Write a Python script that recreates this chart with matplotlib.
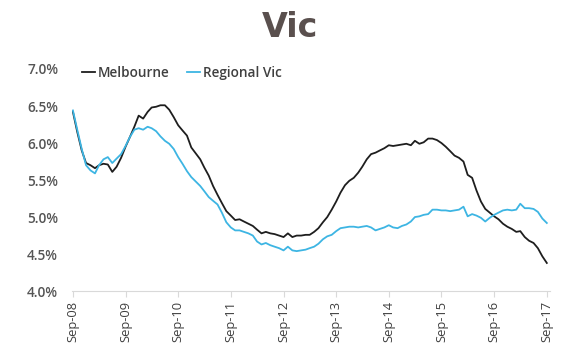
import pandas as pd
import matplotlib.pyplot as plt
import matplotlib.dates as mdates

# monthly unemployment rate, Sep-08 .. Sep-17 (%)
melbourne = [
    6.42, 6.15, 5.90, 5.73, 5.70, 5.66, 5.70, 5.72, 5.71, 5.61,
    5.68, 5.80, 5.95, 6.08, 6.22, 6.37, 6.33, 6.42, 6.48, 6.49,
    6.51, 6.51, 6.45, 6.35, 6.24, 6.17, 6.10, 5.94, 5.86, 5.78,
    5.67, 5.56, 5.42, 5.30, 5.19, 5.08, 5.02, 4.96, 4.97, 4.94,
    4.91, 4.88, 4.83, 4.78, 4.80, 4.78, 4.77, 4.75, 4.73, 4.78,
    4.73, 4.75, 4.75, 4.76, 4.76, 4.80, 4.85, 4.93, 5.00, 5.10,
    5.21, 5.33, 5.43, 5.49, 5.53, 5.60, 5.68, 5.78, 5.85, 5.87,
    5.90, 5.93, 5.97, 5.96, 5.97, 5.98, 5.99, 5.97, 6.03, 5.99,
    6.01, 6.06, 6.06, 6.04, 6.00, 5.95, 5.89, 5.83, 5.80, 5.75,
    5.57, 5.53, 5.36, 5.21, 5.11, 5.06, 5.01, 4.97, 4.91, 4.87,
    4.84, 4.80, 4.81, 4.73, 4.68, 4.65, 4.58, 4.47, 4.38,
]
regional_vic = [
    6.44, 6.18, 5.92, 5.70, 5.63, 5.59, 5.70, 5.78, 5.81, 5.73,
    5.79, 5.85, 5.96, 6.08, 6.18, 6.20, 6.18, 6.22, 6.20, 6.16,
    6.09, 6.03, 5.99, 5.92, 5.81, 5.72, 5.62, 5.54, 5.48, 5.42,
    5.35, 5.27, 5.22, 5.17, 5.06, 4.93, 4.86, 4.82, 4.82, 4.80,
    4.78, 4.75, 4.67, 4.63, 4.65, 4.62, 4.60, 4.58, 4.55, 4.60,
    4.55, 4.54, 4.55, 4.56, 4.58, 4.60, 4.64, 4.70, 4.74, 4.76,
    4.81, 4.85, 4.86, 4.87, 4.87, 4.86, 4.87, 4.88, 4.86, 4.82,
    4.84, 4.86, 4.89, 4.86, 4.85, 4.88, 4.90, 4.94, 5.00, 5.01,
    5.03, 5.04, 5.10, 5.10, 5.09, 5.09, 5.08, 5.09, 5.10, 5.14,
    5.01, 5.04, 5.02, 4.99, 4.94, 4.99, 5.03, 5.06, 5.09, 5.10,
    5.09, 5.10, 5.18, 5.12, 5.12, 5.11, 5.07, 4.98, 4.92,
]
months = pd.date_range('2008-09-01', periods=len(melbourne), freq='MS')
tick_dates = pd.date_range('2008-09-01', '2017-09-01', freq='12MS')
y_ticks = [4.0, 4.5, 5.0, 5.5, 6.0, 6.5, 7.0]

plt.rcParams['font.family'] = ['Open Sans', 'DejaVu Sans']

fig = plt.figure(figsize=(5.8, 3.52), dpi=100)
ax = fig.add_axes([0.124, 0.173, 0.824, 0.631])

ax.plot(months, melbourne, color='#1e1e1e', lw=1.3, label='Melbourne')
ax.plot(months, regional_vic, color='#3db5e3', lw=1.3, label='Regional Vic')

ax.set_ylim(4.0, 7.0)
ax.set_yticks(y_ticks)
ax.set_yticklabels([f'{v:.1f}%' for v in y_ticks], fontweight='semibold')
ax.set_xlim(pd.Timestamp('2008-08-25'), pd.Timestamp('2017-09-22'))
ax.set_xticks(tick_dates)
ax.xaxis.set_major_formatter(mdates.DateFormatter('%b-%y'))

for s in ['top', 'right', 'left']:
    ax.spines[s].set_visible(False)
ax.spines['bottom'].set_color('#d9d9d9')
ax.tick_params(axis='y', length=0, labelsize=9.8, labelcolor='#555555', pad=10)
ax.tick_params(axis='x', length=4, color='#d9d9d9', labelsize=9.3,
               labelcolor='#404040', labelrotation=90, pad=3)

leg = ax.legend(loc='upper left', bbox_to_anchor=(-0.005, 1.07), ncol=2, frameon=False,
                fontsize=9.8, handlelength=1.0, handletextpad=0.15, columnspacing=1.3,
                labelcolor='#404040', prop={'weight': 'semibold', 'size': 9.8})

fig.text(0.5, 0.922, 'Vic', ha='center', va='center', fontsize=24,
         fontweight='bold', color='#5a504e', family=['DejaVu Sans'])

fig.savefig('out.png', dpi=100)
